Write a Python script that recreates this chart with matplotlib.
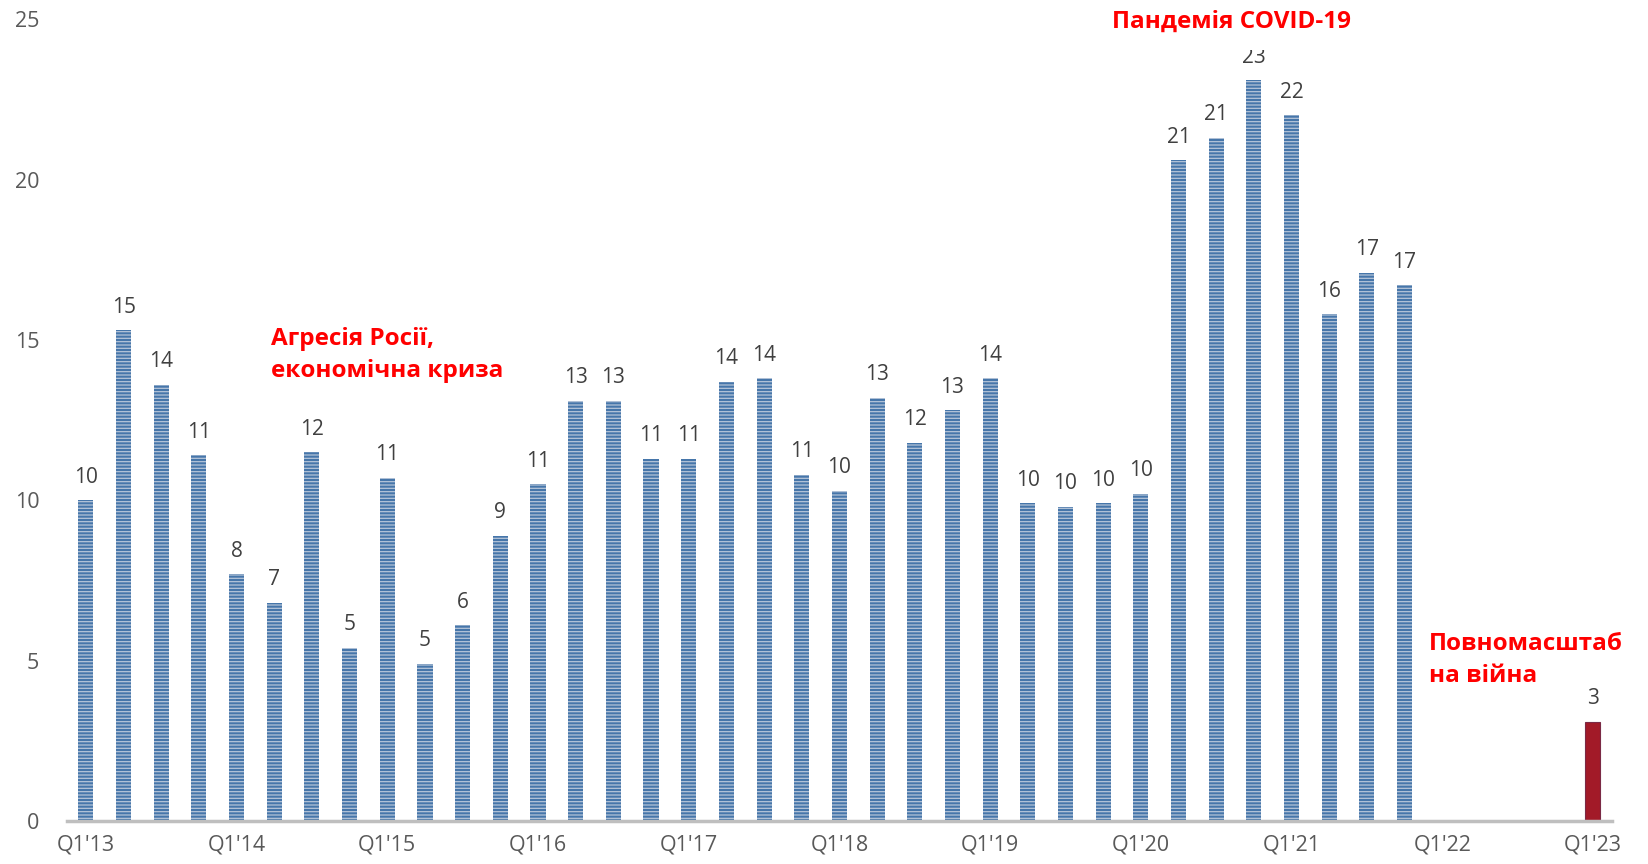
import matplotlib
matplotlib.use("Agg")
import matplotlib.pyplot as plt
import numpy as np

plt.rcParams['font.family'] = ['Open Sans', 'DejaVu Sans']

quarters = [f"Q{q}'{y}" for y in range(13, 24) for q in range(1, 5)][:41]
values = [10.0, 15.3, 13.6, 11.4, 7.7, 6.8, 11.5, 5.4, 10.7, 4.9, 6.1, 8.9,
          10.5, 13.1, 13.1, 11.3, 11.3, 13.7, 13.8, 10.8, 10.3, 13.2, 11.8, 12.8,
          13.8, 9.9, 9.8, 9.9, 10.2, 20.6, 21.3, 23.1, 22.0, 15.8, 17.1, 16.7,
          None, None, None, None, 3.1]
labels = ["10", "15", "14", "11", "8", "7", "12", "5", "11", "5", "6", "9",
          "11", "13", "13", "11", "11", "14", "14", "11", "10", "13", "12", "13",
          "14", "10", "10", "10", "10", "21", "21", "23", "22", "16", "17", "17",
          "", "", "", "", "3"]
tick_labels = ["Q1'13", "Q1'14", "Q1'15", "Q1'16", "Q1'17", "Q1'18",
               "Q1'19", "Q1'20", "Q1'21", "Q1'22", "Q1'23"]

fig = plt.figure(figsize=(16.48, 8.64), dpi=100)
ax = fig.add_axes([0.0407, 0.0498, 0.9373, 0.928])

plt.rcParams['hatch.linewidth'] = 0.9
x = np.arange(len(quarters))
blue_idx = [i for i, v in enumerate(values) if v is not None and i < 40]
red_idx = [40]
bv = [values[i] for i in blue_idx]
ax.bar(blue_idx, bv, width=0.4, color='#4676aa', linewidth=0, zorder=2)
ax.bar(blue_idx, bv, width=0.4, facecolor='none', edgecolor='#b4c4d8',
       hatch='-----', linewidth=0, zorder=3)
ax.bar(red_idx, [values[i] for i in red_idx], width=0.4, color='#a21a28',
       edgecolor='#7a2a45', linewidth=0.8, zorder=2)

for i, v in enumerate(values):
    if v is None:
        continue
    ax.annotate(labels[i], (i, v), xytext=(0, 9), textcoords='offset points',
                ha='center', va='bottom', fontsize=15, color='#404040', zorder=4)

ax.set_xlim(-0.5, 40.5)
ax.set_ylim(0, 25)
ax.set_yticks([0, 5, 10, 15, 20, 25])
ax.set_xticks(range(0, 41, 4))
ax.set_xticklabels(tick_labels)
ax.tick_params(axis='both', length=0, labelsize=15.5, labelcolor='#595959')
ax.tick_params(axis='y', pad=20)
ax.tick_params(axis='x', pad=10)
for s in ['top', 'right', 'left']:
    ax.spines[s].set_visible(False)
ax.spines['bottom'].set_color('#bfbfbf')
ax.spines['bottom'].set_linewidth(2.5)
ax.spines['bottom'].set_zorder(5)

red = '#ff0000'
fig.text(1232 / 1648, 1 - 22 / 864, "Пандемія COVID-19", ha='center', va='center',
         fontsize=17.5, fontweight='bold', color=red, zorder=10,
         bbox=dict(facecolor='white', edgecolor='none', pad=11.5))
fig.text(271 / 1648, 1 - 355 / 864, "Агресія Росії,\nекономічна криза", ha='left', va='center',
         fontsize=17.5, fontweight='bold', color=red, linespacing=1.45)
fig.text(1429 / 1648, 1 - 660 / 864, "Повномасштаб\nна війна", ha='left', va='center',
         fontsize=17.5, fontweight='bold', color=red, linespacing=1.45)

fig.savefig("out.png", dpi=100, facecolor='white')
